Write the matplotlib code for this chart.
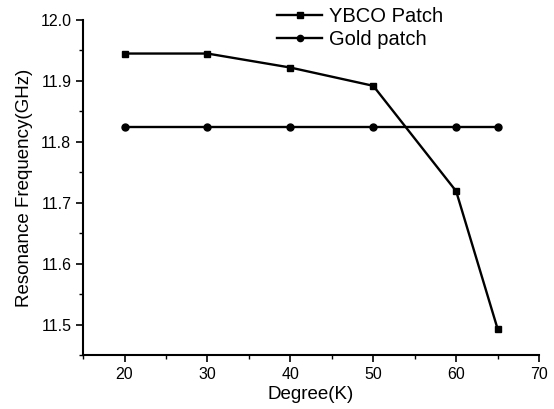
import matplotlib
matplotlib.use("Agg")
import matplotlib.pyplot as plt
from matplotlib.ticker import MultipleLocator

plt.rcParams["font.family"] = ["Liberation Sans", "DejaVu Sans"]

degree = [20, 30, 40, 50, 60, 65]
ybco = [11.945, 11.945, 11.922, 11.892, 11.719, 11.493]
gold = [11.824, 11.824, 11.824, 11.824, 11.824, 11.824]

fig = plt.figure(figsize=(5.54, 4.09), dpi=100)
ax = fig.add_axes([0.150, 0.132, 0.823, 0.819])

ax.plot(degree, ybco, color="black", linewidth=1.7, marker="s", markersize=5, label="YBCO Patch")
ax.plot(degree, gold, color="black", linewidth=1.7, marker="o", markersize=5, label="Gold patch")

ax.set_xlim(15, 70)
ax.set_ylim(11.45, 12.0)
ax.xaxis.set_major_locator(MultipleLocator(10))
ax.xaxis.set_minor_locator(MultipleLocator(5))
ax.yaxis.set_major_locator(MultipleLocator(0.1))
ax.yaxis.set_minor_locator(MultipleLocator(0.05))
ax.yaxis.set_major_formatter(plt.FormatStrFormatter("%.1f"))
ax.xaxis.set_major_formatter(plt.FormatStrFormatter("%d"))

for s in ["top", "right"]:
    ax.spines[s].set_visible(False)
for s in ["left", "bottom"]:
    ax.spines[s].set_linewidth(1.5)

ax.tick_params(which="major", direction="out", length=5, width=1.2, labelsize=11.5)
ax.tick_params(which="minor", direction="out", length=3, width=1.0)

ax.set_xlabel("Degree(K)", fontsize=13.5, labelpad=3)
ax.set_ylabel("Resonance Frequency(GHz)", fontsize=13.5, labelpad=5)

# legend sits in the top margin, over the plot
fig.legend(handles=ax.get_lines(), loc="upper left", bbox_to_anchor=(0.500, 0.983),
           frameon=False, fontsize=14.5, handlelength=2.25, handletextpad=0.35,
           labelspacing=0.2, borderpad=0, borderaxespad=0, markerscale=0.9)

fig.savefig("out.png", dpi=100, facecolor="white")
